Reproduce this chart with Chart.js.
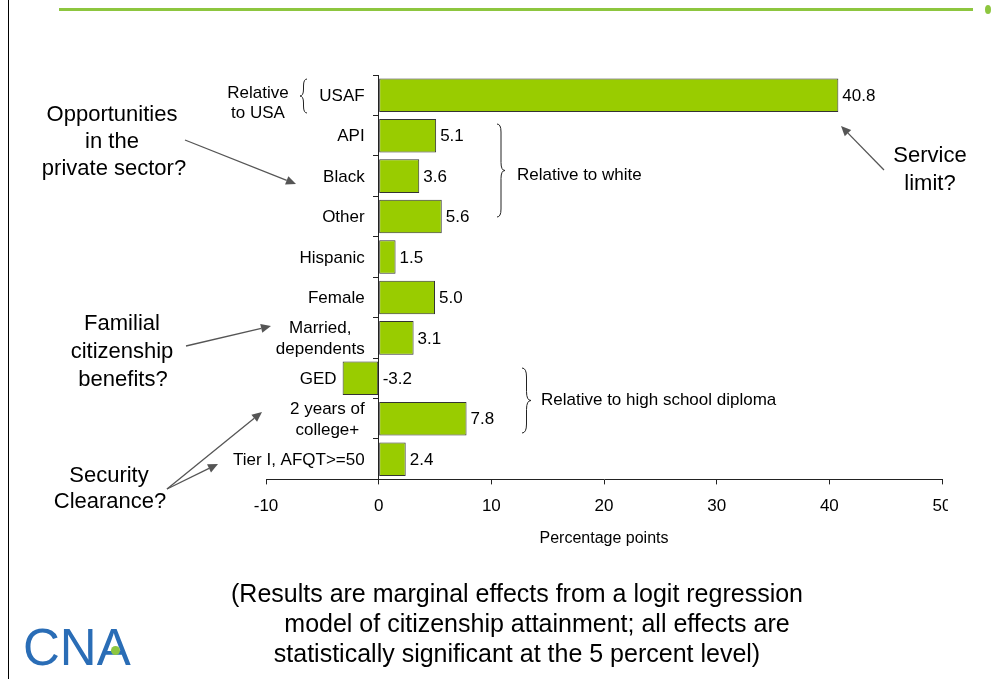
<!DOCTYPE html>
<html>
<head>
<meta charset="utf-8">
<script src="https://cdn.jsdelivr.net/npm/chart.js@4"></script>
<style>
  html, body { margin: 0; padding: 0; background: #fff; }
  body { width: 1004px; height: 679px; position: relative; overflow: hidden; font-family: "Liberation Sans", Arial, sans-serif; color: #000; }
  #c { position: absolute; left: 0; top: 0; }
  .t { position: absolute; white-space: nowrap; transform: translate(-50%, -50%); line-height: 1; }
  .l { position: absolute; white-space: nowrap; transform: translate(0, -50%); line-height: 1; }
  .big { font-size: 22px; }
  .sm { font-size: 17px; }
  .foot { font-size: 25px; }
  #vline { position: absolute; left: 8px; top: 0; width: 1px; height: 679px; background: #000; }
  #gline { position: absolute; left: 59px; top: 8px; width: 914px; height: 3px; background: #8dc63f; }
  #gdot { position: absolute; left: 985px; top: 5px; width: 6px; height: 9px; border-radius: 50%; background: #8dc63f; }
  #clip { position: absolute; left: 948px; top: 490px; width: 56px; height: 34px; background: #fff; }
  #logo { position: absolute; left: 23px; top: 647px; transform: translate(0, -50%); font-size: 51px; color: #2a6db6; line-height: 1; }
  #ldot { position: absolute; left: 111px; top: 646px; width: 9px; height: 9px; border-radius: 50%; background: #8dc63f; }
</style>
</head>
<body>
<canvas id="c" width="1004" height="679"></canvas>
<div id="vline"></div>
<div id="gline"></div>
<div id="gdot"></div>
<div id="clip"></div>

<div class="t big" style="left:112px; top:114px;">Opportunities</div>
<div class="t big" style="left:112px; top:141px;">in the</div>
<div class="t big" style="left:114px; top:168px;">private sector?</div>

<div class="t big" style="left:122px; top:323px;">Familial</div>
<div class="t big" style="left:122px; top:351px;">citizenship</div>
<div class="t big" style="left:123px; top:379px;">benefits?</div>

<div class="t big" style="left:109px; top:475px;">Security</div>
<div class="t big" style="left:110px; top:501px;">Clearance?</div>

<div class="t big" style="left:930px; top:155px;">Service</div>
<div class="t big" style="left:930px; top:183px;">limit?</div>

<div class="t sm" style="left:258px; top:92px;">Relative</div>
<div class="t sm" style="left:258px; top:112px;">to USA</div>

<div class="l sm" style="left:517px; top:174px;">Relative to white</div>
<div class="l sm" style="left:541px; top:399px;">Relative to high school diploma</div>

<div class="t foot" style="left:517px; top:593px;">(Results are marginal effects from a logit regression</div>
<div class="t foot" style="left:537px; top:623px;">model of citizenship attainment; all effects are</div>
<div class="t foot" style="left:517px; top:653px;">statistically significant at the 5 percent level)</div>

<div id="logo">CNA</div>
<div id="ldot"></div>

<script>
// ---- data ----
const categories = [["USAF"], ["API"], ["Black"], ["Other"], ["Hispanic"], ["Female"], ["Married,", "dependents"], ["GED"], ["2 years of", "college+"], ["Tier I, AFQT>=50"]];
const values = [40.8, 5.1, 3.6, 5.6, 1.5, 5.0, 3.1, -3.2, 7.8, 2.4];
const xTickValues = [-10, 0, 10, 20, 30, 40, 50];
const xTitle = "Percentage points";

const FONT = "'Liberation Sans', Arial, sans-serif";

function drawBrace(ctx, x, y1, y2, w, dir) {
  const ym = (y1 + y2) / 2;
  const r = Math.min(w, (y2 - y1) / 4);
  const xm = x + dir * w / 2;
  ctx.beginPath();
  ctx.moveTo(x, y1);
  ctx.quadraticCurveTo(xm, y1, xm, y1 + r);
  ctx.lineTo(xm, ym - r);
  ctx.quadraticCurveTo(xm, ym, x + dir * w, ym);
  ctx.quadraticCurveTo(xm, ym, xm, ym + r);
  ctx.lineTo(xm, y2 - r);
  ctx.quadraticCurveTo(xm, y2, x, y2);
  ctx.stroke();
}

function drawArrow(ctx, x1, y1, x2, y2) {
  const a = Math.atan2(y2 - y1, x2 - x1);
  const L = 10, H = 4.5;
  const bx = x2 - L * Math.cos(a), by = y2 - L * Math.sin(a);
  ctx.beginPath();
  ctx.moveTo(x1, y1);
  ctx.lineTo(bx, by);
  ctx.stroke();
  ctx.beginPath();
  ctx.moveTo(x2, y2);
  ctx.lineTo(bx + H * Math.sin(a), by - H * Math.cos(a));
  ctx.lineTo(bx - H * Math.sin(a), by + H * Math.cos(a));
  ctx.closePath();
  ctx.fill();
}

const decorPlugin = {
  id: 'decor',
  afterDatasetsDraw(chart) {
    const ctx = chart.ctx;
    const xs = chart.scales.x, ys = chart.scales.y;
    const zero = xs.getPixelForValue(0);
    ctx.save();
    // category labels
    ctx.font = "17px " + FONT;
    ctx.fillStyle = "#000";
    ctx.textBaseline = "middle";
    ctx.textAlign = "center";
    const lh = 21;
    categories.forEach((lines, i) => {
      const yc = ys.getPixelForValue(i);
      const v = values[i];
      const right = v < 0 ? xs.getPixelForValue(v) - 6 : zero - 14;
      const wmax = Math.max(...lines.map(s => ctx.measureText(s).width));
      const cx = right - wmax / 2;
      lines.forEach((s, k) => {
        const yy = yc + (k - (lines.length - 1) / 2) * lh;
        ctx.fillText(s, cx, yy + 1);
      });
    });
    // value labels
    ctx.textAlign = "left";
    values.forEach((v, i) => {
      const px = xs.getPixelForValue(Math.max(v, 0)) + 4;
      ctx.fillText(v.toFixed(1), px, ys.getPixelForValue(i) + 1);
    });
    // braces
    ctx.strokeStyle = "#222";
    ctx.lineWidth = 1;
    drawBrace(ctx, 307, 79, 113, 7, -1);
    drawBrace(ctx, 497, 124, 217, 8, 1);
    drawBrace(ctx, 522, 368, 433, 9, 1);
    // arrows
    ctx.strokeStyle = "#555";
    ctx.fillStyle = "#555";
    ctx.lineWidth = 1.3;
    drawArrow(ctx, 185, 140, 296, 184);
    drawArrow(ctx, 186, 346, 271, 326);
    drawArrow(ctx, 167, 489, 262, 412);
    drawArrow(ctx, 167, 489, 218, 464);
    drawArrow(ctx, 884, 170, 841, 126);
    ctx.restore();
  }
};

new Chart(document.getElementById('c'), {
  type: 'bar',
  data: {
    labels: categories.map(l => l.join(' ')),
    datasets: [{
      data: values,
      backgroundColor: '#99cc00',
      borderColor: '#333333',
      borderWidth: 1,
      borderSkipped: false,
      barPercentage: 0.83,
      categoryPercentage: 1.0
    }]
  },
  options: {
    indexAxis: 'y',
    responsive: false,
    animation: false,
    events: [],
    layout: { padding: { left: 266, right: 62, top: 75, bottom: 131 } },
    plugins: { legend: { display: false }, tooltip: { enabled: false } },
    scales: {
      x: {
        type: 'linear',
        min: xTickValues[0],
        max: xTickValues[xTickValues.length - 1],
        afterBuildTicks(scale) { scale.ticks = xTickValues.map(v => ({ value: v })); },
        ticks: { font: { family: FONT, size: 17 }, color: '#000', padding: 12, maxRotation: 0 },
        grid: { drawOnChartArea: false, drawTicks: true, tickLength: 5, color: '#222' },
        border: { display: true, color: '#222', width: 1 },
        title: { display: true, text: xTitle, font: { family: FONT, size: 16 }, color: '#000', padding: { top: 0, bottom: 0 } }
      },
      y: {
        position: { x: 0 },
        offset: true,
        ticks: { display: false },
        grid: { offset: true, drawOnChartArea: false, drawTicks: true, tickLength: 5, color: '#222' },
        border: { display: true, color: '#222', width: 1 }
      }
    }
  },
  plugins: [decorPlugin]
});
</script>
</body>
</html>
